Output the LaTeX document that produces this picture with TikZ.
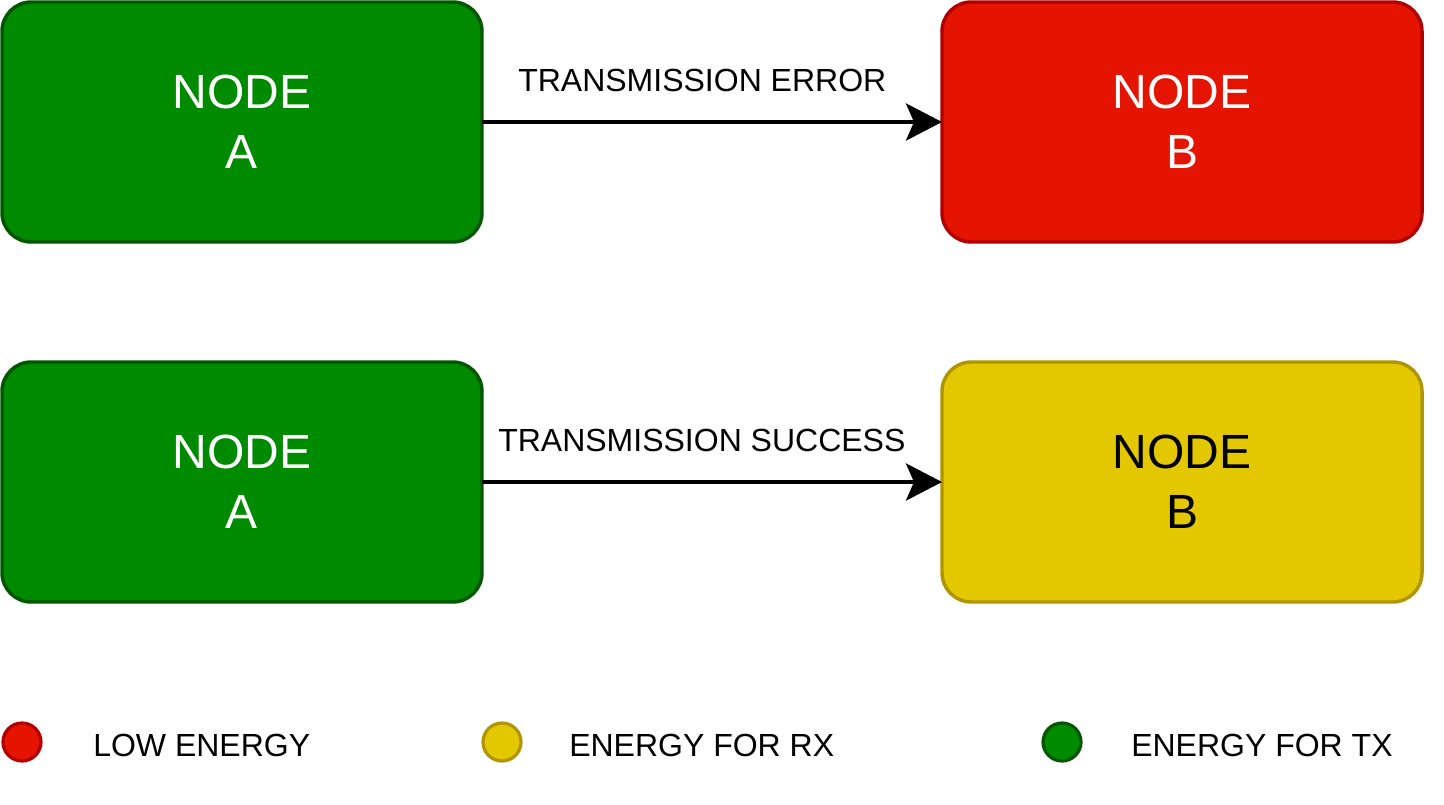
\documentclass[tikz,border=0pt]{standalone}
\usepackage{fontspec}
\setmainfont{Liberation Sans}
\usetikzlibrary{arrows.meta}

\definecolor{txgreen}{RGB}{0,138,0}
\definecolor{txgreenline}{RGB}{0,87,0}
\definecolor{lowred}{RGB}{229,20,0}
\definecolor{lowredline}{RGB}{178,0,0}
\definecolor{rxyellow}{RGB}{227,200,0}
\definecolor{rxyellowline}{RGB}{176,149,0}

\begin{document}
\begin{tikzpicture}[x=0.75pt,y=0.75pt,yscale=-1,xscale=1,
    nodebox/.style={draw, line width=2.6pt, rounded corners=22pt, minimum width=360pt, minimum height=180pt, inner sep=0pt, outer sep=0pt, align=center, font=\fontsize{36}{45}\selectfont},
    dot/.style={circle, draw, line width=2.4pt, minimum size=28.5pt, inner sep=0pt},
    lbl/.style={anchor=west, inner sep=0pt, font=\fontsize{24}{29}\selectfont},
    flow/.style={line width=3pt, -{Stealth[length=27pt, width=27.75pt, inset=6pt]}}]
    \useasboundingbox (0,0) rectangle (1444,804);

    %Shape: Rounded Rectangle (sender, error case)
    \node [nodebox, fill=txgreen, draw=txgreenline, text=white] (senderA) at (242,122) {NODE\\A};
    %Shape: Rounded Rectangle (receiver, error case)
    \node [nodebox, fill=lowred, draw=lowredline, text=white] (receiverB) at (1182,122) {NODE\\B};

    %Shape: Rounded Rectangle (sender, success case)
    \node [nodebox, fill=txgreen, draw=txgreenline, text=white] (senderA2) at (242,482) {NODE\\A};
    %Shape: Rounded Rectangle (receiver, success case)
    \node [nodebox, fill=rxyellow, draw=rxyellowline, text=black] (receiverB2) at (1182,482) {NODE\\B};

    %Straight Lines
    \draw [flow] (senderA) -- (receiverB);
    \draw [flow] (senderA2) -- (receiverB2);

    % Text Node
    \node [lbl] (errlbl) at (518,80) {TRANSMISSION ERROR};
    % Text Node
    \node [lbl] (oklbl) at (498,440) {TRANSMISSION SUCCESS};

    %Legend
    \node [dot, fill=lowred, draw=lowredline] (lowdot) at (22,742) {};
    \node [lbl] (lowtxt) at (93,745) {LOW ENERGY};
    \node [dot, fill=rxyellow, draw=rxyellowline] (rxdot) at (502,742) {};
    \node [lbl] (rxtxt) at (569,745) {ENERGY FOR RX};
    \node [dot, fill=txgreen, draw=txgreenline] (txdot) at (1062,742) {};
    \node [lbl] (txtxt) at (1131,745) {ENERGY FOR TX};

\end{tikzpicture}
\end{document}
